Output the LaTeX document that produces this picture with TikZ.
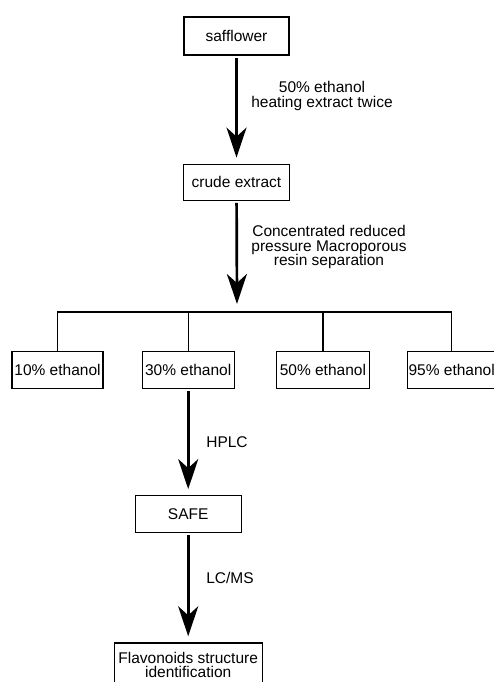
\documentclass[tikz,border=0pt]{standalone}
\usepackage{fontspec}
\setmainfont{Liberation Sans}
\usetikzlibrary{arrows.meta,positioning}

\begin{document}
\begin{tikzpicture}[x=1pt, y=-1pt,
            box/.style={draw, line width=1.2pt, minimum height=37pt, inner sep=2pt, align=center, font=\fontsize{15.5}{14}\selectfont},
            note/.style={align=center, font=\fontsize{15.5}{14.5}\selectfont},
            arrow/.style={-{Stealth[length=30pt, width=20pt, inset=9pt]}, line width=2.7pt, shorten <=2pt, shorten >=6pt},
            line/.style={line width=1.2pt}
        ]
        \useasboundingbox (0,0) rectangle (494,682);

        \node[box, minimum width=105pt, minimum height=38pt] (safflower) at (236.5,36) {safflower};

        \node[box, minimum width=106pt, minimum height=36pt, below=108pt of safflower] (crude) {crude extract};

        \node[box, minimum width=91pt] (e10) at (57.5,370) {10\% ethanol};

        \node[box, minimum width=92pt, right=38pt of e10] (e30) {30\% ethanol};

        \node[box, minimum width=93pt, right=41pt of e30] (e50) {50\% ethanol};

        \node[box, inner xsep=1pt, right=37pt of e50] (e95) {95\% ethanol};

        \node[box, minimum width=106pt, below=106pt of e30] (safe) {SAFE};

        \node[box, minimum width=148pt, minimum height=44pt, below=109pt of safe] (flav) {Flavonoids structure\\identification};

        \coordinate (split) at (237,304);
        \coordinate (bus) at (0,312);

        % Main flow arrows
        \draw[arrow] (safflower) -- (crude);
        \draw[arrow, shorten >=0pt] (crude) -- (split);
        \draw[arrow] (e30.south) -- (e30.south |- safe.north);
        \draw[arrow] (safe.south) -- (safe.south |- flav.north);

        % Branches to the fractions
        \draw[line] (e10.north) |- (bus -| e95.north) -- (e95.north);
        \draw[line] (e30.north) -- (e30.north |- bus);
        \draw[line] (e50.north) -- (e50.north |- bus);

        % Step labels
        \node[note] (step1) at (322,96) {50\% ethanol\\heating extract twice};
        \node[note] (step2) at (329,247) {Concentrated reduced\\pressure Macroporous\\resin separation};
        \node[note] (step3) at (227,442) {HPLC};
        \node[note] (step4) at (230,578) {LC/MS};

    \end{tikzpicture}
\end{document}
